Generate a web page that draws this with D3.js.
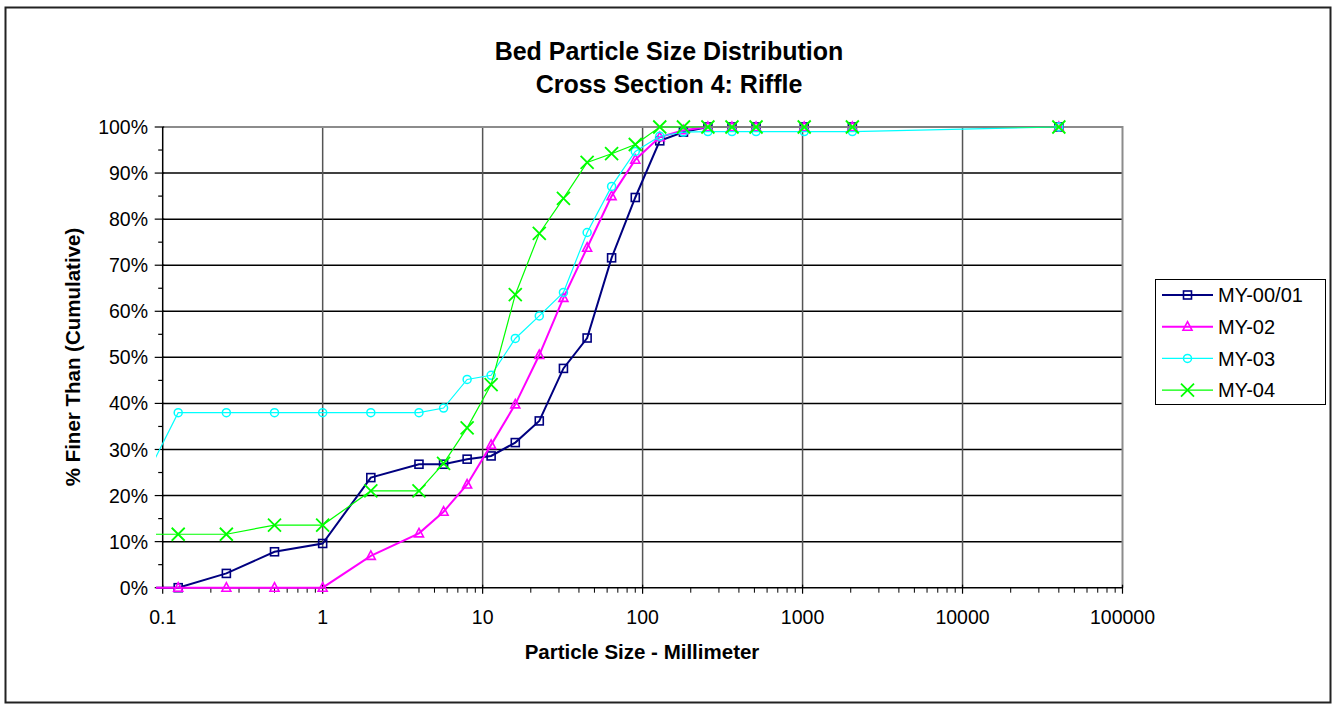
<!DOCTYPE html>
<html><head><meta charset="utf-8">
<script src="https://cdn.jsdelivr.net/npm/d3@7"></script>
<style>
html,body{margin:0;padding:0;background:#fff;}
svg{display:block;font-family:"Liberation Sans",Arial,sans-serif;}
</style></head>
<body>
<svg id="chart" width="1339" height="710"></svg>
<script>
const sizes = [0.062, 0.125, 0.25, 0.5, 1, 2, 4, 5.7, 8, 11.3, 16, 22.6, 32, 45, 64, 90, 128, 180, 256, 362, 512, 1024, 2048, 40000];
const my0001 = [0, 0, 3.1, 7.8, 9.6, 23.9, 26.8, 26.8, 27.9, 28.6, 31.5, 36.2, 47.6, 54.2, 71.6, 84.7, 97.0, 98.9, 100, 100, 100, 100, 100, 100];
const my02   = [0, 0, 0, 0, 0, 6.9, 11.8, 16.5, 22.4, 31.0, 39.8, 50.5, 62.9, 73.8, 85.0, 92.9, 97.8, 99.3, 100, 100, 100, 100, 100, 100];
const my03   = [17, 38, 38, 38, 38, 38, 38, 39.0, 45.2, 46.1, 54.1, 59.0, 64.1, 77.1, 87.1, 94.7, 98.0, 98.9, 99, 99, 99, 99, 99, 100];
const my04   = [11.6, 11.6, 11.6, 13.6, 13.6, 21.0, 21.0, 27.0, 34.7, 44.1, 63.6, 76.9, 84.5, 92.3, 94.2, 96.2, 100, 100, 100, 100, 100, 100, 100, 100];
const seriesNames = ["MY-00/01", "MY-02", "MY-03", "MY-04"];
const xTickLabels = ["0.1", "1", "10", "100", "1000", "10000", "100000"];
const yTickLabels = ["0%","10%","20%","30%","40%","50%","60%","70%","80%","90%","100%"];
const titleLines = ["Bed Particle Size Distribution", "Cross Section 4: Riffle"];
const xTitle = "Particle Size - Millimeter";
const yTitle = "% Finer Than (Cumulative)";

const svg = d3.select("#chart");
const L = 162.7, R = 1122.5, T = 127, B = 587.7;
const x = d3.scaleLog().domain([0.1, 100000]).range([L, R]);
const y = d3.scaleLinear().domain([0, 100]).range([B, T]);

// outer border
svg.append("rect").attr("x", 5.5).attr("y", 7.5).attr("width", 1325).attr("height", 695)
  .attr("fill", "none").attr("stroke", "#222").attr("stroke-width", 2);

// gridlines
const yVals = d3.range(0, 101, 10);
svg.append("g").selectAll("line").data(yVals.slice(1, 10)).join("line")
  .attr("x1", L).attr("x2", R).attr("y1", d => y(d)).attr("y2", d => y(d))
  .attr("stroke", "#000").attr("stroke-width", 1.5);
const decades = xTickLabels.map(Number);
svg.append("g").selectAll("line").data(decades.slice(1, 6)).join("line")
  .attr("x1", d => x(d)).attr("x2", d => x(d)).attr("y1", T).attr("y2", B)
  .attr("stroke", "#555").attr("stroke-width", 1.5);

// plot frame top/right
svg.append("path").attr("d", `M${L},${T}H${R}V${B}`).attr("fill", "none")
  .attr("stroke", "#8c8c8c").attr("stroke-width", 2);

// Y axis
const yAxis = svg.append("g");
yAxis.append("line").attr("x1", L).attr("x2", L).attr("y1", T).attr("y2", B).attr("stroke", "#000").attr("stroke-width", 1.5);
yAxis.selectAll(".maj").data(yVals).join("line").attr("class", "maj")
  .attr("x1", L - 8).attr("x2", L + 1.5).attr("y1", d => y(d)).attr("y2", d => y(d)).attr("stroke", "#000").attr("stroke-width", 1.2);
yAxis.selectAll(".min").data(d3.range(5, 100, 10)).join("line").attr("class", "min")
  .attr("x1", L - 4.5).attr("x2", L).attr("y1", d => y(d)).attr("y2", d => y(d)).attr("stroke", "#000").attr("stroke-width", 1.2);
yAxis.selectAll("text").data(yVals).join("text")
  .attr("x", 148).attr("y", d => y(d)).attr("dy", "0.36em").attr("text-anchor", "end")
  .attr("font-size", 19.5).attr("fill", "#000").text((d, i) => yTickLabels[i]);

// X axis
const xAxis = svg.append("g");
xAxis.append("line").attr("x1", L).attr("x2", R).attr("y1", B).attr("y2", B).attr("stroke", "#000").attr("stroke-width", 1.5);
xAxis.selectAll(".maj").data(decades).join("line").attr("class", "maj")
  .attr("x1", d => x(d)).attr("x2", d => x(d)).attr("y1", B - 3).attr("y2", B + 6).attr("stroke", "#000").attr("stroke-width", 1.2);
const minors = [];
decades.slice(0, 6).forEach(d => { for (let k = 2; k <= 9; k++) minors.push(d * k); });
xAxis.selectAll(".min").data(minors).join("line").attr("class", "min")
  .attr("x1", d => x(d)).attr("x2", d => x(d)).attr("y1", B).attr("y2", B + 5).attr("stroke", "#000").attr("stroke-width", 1);
xAxis.selectAll("text").data(decades).join("text")
  .attr("x", d => x(d)).attr("y", 624).attr("text-anchor", "middle")
  .attr("font-size", 19.5).attr("fill", "#000").text((d, i) => xTickLabels[i]);

// titles
svg.append("text").attr("x", 669).attr("y", 60).attr("text-anchor", "middle")
  .attr("font-size", 25).attr("font-weight", "bold").text(titleLines[0]);
svg.append("text").attr("x", 669).attr("y", 93).attr("text-anchor", "middle")
  .attr("font-size", 25).attr("font-weight", "bold").text(titleLines[1]);
svg.append("text").attr("x", 642).attr("y", 659).attr("text-anchor", "middle")
  .attr("font-size", 20.5).attr("font-weight", "bold").text(xTitle);
svg.append("text").attr("transform", "translate(80,357) rotate(-90)").attr("text-anchor", "middle")
  .attr("font-size", 20.5).attr("font-weight", "bold").text(yTitle);

// series
const series = [
  {name: seriesNames[0], vals: my0001, color: "#000080", width: 2, marker: "square"},
  {name: seriesNames[1], vals: my02, color: "#ff00ff", width: 2, marker: "triangle"},
  {name: seriesNames[2], vals: my03, color: "#00ffff", width: 1.2, marker: "circle"},
  {name: seriesNames[3], vals: my04, color: "#00ff00", width: 1.2, marker: "x"}
];

svg.append("defs").append("clipPath").attr("id", "clip")
  .append("rect").attr("x", 156).attr("y", 100).attr("width", 980).attr("height", 500);

const line = d3.line().x(d => x(d[0])).y(d => y(d[1]));

function drawMarker(g, type, color, cx, cy) {
  if (type === "square") {
    g.append("rect").attr("x", cx - 4).attr("y", cy - 4).attr("width", 8).attr("height", 8)
      .attr("fill", "none").attr("stroke", color).attr("stroke-width", 1.6);
  } else if (type === "triangle") {
    g.append("path").attr("d", `M${cx},${cy - 5}L${cx + 4.5},${cy + 3.5}L${cx - 4.5},${cy + 3.5}Z`)
      .attr("fill", "none").attr("stroke", color).attr("stroke-width", 1.6);
  } else if (type === "circle") {
    g.append("circle").attr("cx", cx).attr("cy", cy).attr("r", 4)
      .attr("fill", "none").attr("stroke", color).attr("stroke-width", 1.5);
  } else {
    g.append("path").attr("d", `M${cx - 6.5},${cy - 6.5}L${cx + 6.5},${cy + 6.5}M${cx - 6.5},${cy + 6.5}L${cx + 6.5},${cy - 6.5}`)
      .attr("fill", "none").attr("stroke", color).attr("stroke-width", 1.8);
  }
}

series.forEach(s => {
  const pts = sizes.map((v, i) => [v, s.vals[i]]);
  svg.append("path").datum(pts).attr("d", line).attr("clip-path", "url(#clip)")
    .attr("fill", "none").attr("stroke", s.color).attr("stroke-width", s.width);
  const g = svg.append("g");
  pts.filter(p => p[0] >= 0.1).forEach(p => drawMarker(g, s.marker, s.color, x(p[0]), y(p[1])));
});

// legend
const lg = svg.append("g");
lg.append("rect").attr("x", 1155.5).attr("y", 279.5).attr("width", 170).attr("height", 125)
  .attr("fill", "#fff").attr("stroke", "#000").attr("stroke-width", 1);
series.forEach((s, i) => {
  const ly = 295 + i * 31.7;
  lg.append("line").attr("x1", 1162).attr("x2", 1213).attr("y1", ly).attr("y2", ly)
    .attr("stroke", s.color).attr("stroke-width", s.width);
  drawMarker(lg, s.marker, s.color, 1187.5, ly);
  lg.append("text").attr("x", 1218).attr("y", ly).attr("dy", "0.36em")
    .attr("font-size", 20).attr("fill", "#000").text(s.name);
});
</script>
</body></html>
